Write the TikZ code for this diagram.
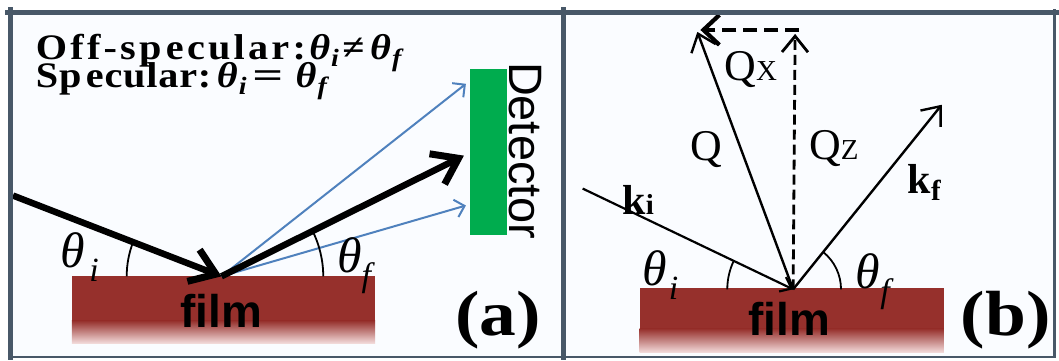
\documentclass[tikz,border=0pt]{standalone}
\usepackage{fontspec}
\setmainfont{Liberation Serif}
\setsansfont{Liberation Sans}
\newfontfamily\thfont{Liberation Serif}
\usepackage{graphicx}
\usetikzlibrary{arrows.meta}
\definecolor{framec}{RGB}{72,88,104}
\definecolor{bgc}{RGB}{250,252,255}
\definecolor{filmred}{RGB}{150,48,44}
\definecolor{filmlight}{RGB}{242,218,218}
\definecolor{beamblue}{RGB}{79,129,189}
\definecolor{detgreen}{RGB}{0,172,78}
\newcommand{\fs}[1]{\fontsize{#1}{#1}\selectfont}
\newcommand{\bth}[1]{{\thfont\bfseries\itshape θ}\kern1pt{\thfont\fs{25}\itshape\raisebox{-7pt}{#1}}}
\newcommand{\bigth}[2]{{\fs{50}\itshape θ\kern#2\raisebox{-14pt}{\fs{34}#1}}}
\begin{document}
\begin{tikzpicture}[x=1pt,y=-1pt,
  lbl/.style={inner sep=0pt,outer sep=0pt},
  framel/.style={draw=framec,line cap=rect},
  thickbeam/.style={line width=6.5pt,-{Straight Barb[length=24pt,width=34pt,line width=7pt]}},
  thinbeam/.style={beamblue,line width=2pt,-{Straight Barb[length=9pt,width=18pt]}},
  vec/.style={line width=2.4pt,-{Straight Barb[length=16pt,width=26pt]}},
  anglearc/.style={line width=1.8pt},
  filmtext/.style={lbl,font=\sffamily\bfseries\fs{46}},
]
% background
\fill[white] (0,0) rectangle (1059,361);
\fill[bgc] (10,12) rectangle (1057,358);

% ---------- panel (a) ----------
\fill[filmred] (72,277) rectangle (376,322);
\shade[top color=filmred,bottom color=filmlight] (72,321.5) rectangle (376,344);
\fill[detgreen] (471,69) rectangle (508,236);

\coordinate (oa) at (222,277);
\coordinate (ina) at (13,196);
\coordinate (outa) at (465,156);
\coordinate (bua) at (467,84);
\coordinate (bla) at (467,206);

\draw[thinbeam] (oa) -- (bua);
\draw[thinbeam] (oa) -- (bla);
\draw[thickbeam] (ina) -- (oa);
\draw[thickbeam] (oa) -- (outa);
\draw[anglearc] ([shift={(-95,0)}]oa) arc[start angle=-180,end angle=-159,radius=95];
\draw[anglearc] ([shift={(102,0)}]oa) arc[start angle=0,end angle=-27,radius=102];

\node[lbl,anchor=base west] (l1) at (36,60)
  {\scalebox{1.12}[1]{\fs{36}\bfseries{\addfontfeature{LetterSpace=8}Off-sp\kern4pt ecular:}\kern3pt\bth{i}\kern3pt{\thfont\bfseries≠}\kern5pt\bth{f}}};
\node[lbl,anchor=base west] (l2) at (36,88)
  {\scalebox{1.12}[1]{\fs{36}\bfseries{\addfontfeature{LetterSpace=2}Sp\kern4pt ecular:}\kern5pt\bth{i}\kern5pt{\thfont\bfseries\scalebox{1.35}[1]{=}}\kern11pt\bth{f}}};
\node[lbl,rotate=-90,font=\sffamily\fs{47}] (det) at (527,151) {Detector};
\node[filmtext,anchor=base] (filma) at (222,328) {film};
\node[lbl,anchor=base west] (thia) at (61,268) {\bigth{i}{4pt}};
\node[lbl,anchor=base west] (thfa) at (338,273) {\bigth{f}{0pt}};
\node[lbl] (laba) at (499,321) {\scalebox{1.15}[1]{\fs{64}\bfseries (a)}};

% ---------- panel (b) ----------
\fill[filmred] (641,289) rectangle (946,330);
\shade[top color=filmred,bottom color=filmlight] (641,329.5) rectangle (946,353);

\coordinate (ob) at (795,290);
\coordinate (kis) at (584,189);
\coordinate (kft) at (944,105);
\coordinate (qt) at (699,32);
\coordinate (qzt) at (797,34);
\coordinate (qxs) at (801,30);
\coordinate (qxt) at (702,30);

\draw[line width=2.2pt,-{Straight Barb[length=10pt,width=16pt]}] (kis) -- (ob);
\draw[vec] (ob) -- (qt);
\draw[vec] (ob) -- (kft);
\draw[vec,line width=2.8pt,dash pattern=on 10pt off 5pt] (ob) -- (qzt);
\draw[line width=4.2pt,dash pattern=on 14pt off 7pt,-{Straight Barb[length=16pt,width=30pt]}] (qxs) -- (qxt);
\draw[anglearc] ([shift={(-66,0)}]ob) arc[start angle=-180,end angle=-154,radius=66];
\draw[anglearc] ([shift={(48,0)}]ob) arc[start angle=0,end angle=-51,radius=48];

\node[filmtext,anchor=base] (filmb) at (791,336) {film};
\node[lbl,anchor=base west] (thib) at (644,286) {\bigth{i}{2pt}};
\node[lbl,anchor=base west] (thfb) at (858,289) {\bigth{f}{0pt}};
\node[lbl,anchor=base west] (qx) at (726,81) {\fs{44}Q\fs{29}X};
\node[lbl] (q) at (708,150) {\fs{44}Q};
\node[lbl,anchor=base west] (qz) at (811,160) {\fs{44}Q\fs{29}Z};
\node[lbl,anchor=base west] (ki) at (624,215) {\fs{42}\bfseries k\fs{29}i};
\node[lbl,anchor=base west] (kf) at (910,194) {\fs{42}\bfseries k\raisebox{-7pt}{\fs{29}f}};
\node[lbl] (labb) at (1008,321) {\scalebox{1.15}[1]{\fs{64}\bfseries (b)}};

% frame
\draw[framel,line width=5pt] (8,12.5) -- (1059,12.5);
\draw[framel,line width=5pt] (10.5,10) -- (10.5,358);
\draw[framel,line width=5pt] (565,10) -- (565,358);
\draw[framel,line width=2.5pt] (10,358) -- (1057,358);
\draw[framel,line width=2.5pt] (1057,10) -- (1057,358);
\useasboundingbox (0,0) rectangle (1059,361);
\end{tikzpicture}
\end{document}
